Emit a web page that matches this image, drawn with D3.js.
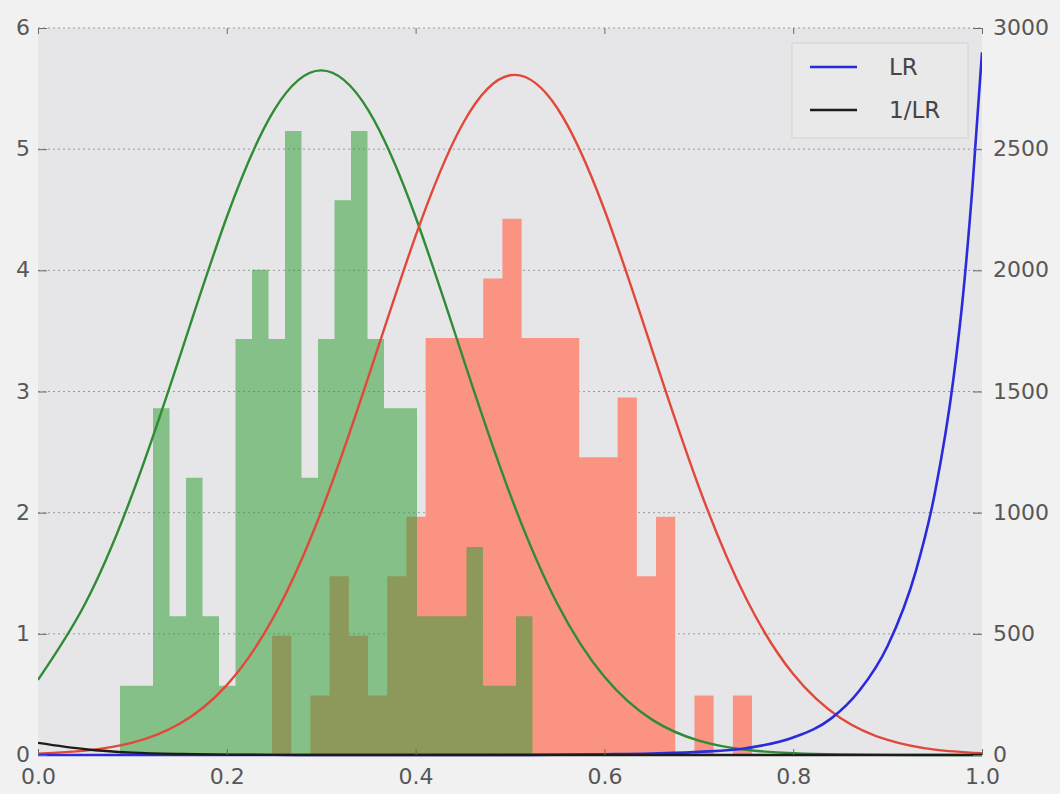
<!DOCTYPE html>
<html>
<head>
<meta charset="utf-8">
<script src="https://cdn.jsdelivr.net/npm/d3@7"></script>
<style>
  html, body { margin: 0; padding: 0; background: #f1f1f1; }
  svg { display: block; }
  .tick text { font-family: "DejaVu Sans", sans-serif; font-size: 22px; fill: #575757; }
</style>
</head>
<body>
<svg id="chart" width="1060" height="794"></svg>
<script>
// ---------------- data ----------------
const greenCounts = [1,1,5,2,4,2,1,6,7,6,9,4,6,8,9,6,5,5,2,2,2,3,1,1,2];
const greenRange  = [0.0869, 0.5238];
const redCounts   = [2,0,1,3,2,1,3,4,7,7,7,8,9,7,7,7,5,5,6,3,4,0,1,0,1];
const redRange    = [0.2479, 0.7564];

const curveX   = [0,0.05,0.1,0.15,0.2,0.25,0.3,0.35,0.4,0.45,0.5,0.55,0.6,0.65,0.7,0.75,0.8,0.85,0.9,0.95,1.0];
const greenPdf = [0.62,1.25,2.154,3.284,4.44,5.32,5.65,5.32,4.44,3.284,2.154,1.25,0.645,0.294,0.119,0.043,0.014,0.004,0.001,0.0002,0];
const redPdf   = [0.011,0.036,0.102,0.258,0.577,1.144,2.008,3.12,4.284,5.21,5.61,5.34,4.50,3.356,2.214,1.293,0.668,0.306,0.124,0.044,0.014];
const invLR    = [50,24,10,4,1.5,0.5,0.2,0.05,0,0,0,0,0,0,0,0,0,0,0,0,0];

const lrX = [0,0.5,0.6,0.65,0.7,0.75,0.8,0.84,0.87,0.9,0.93,0.95,0.97,0.98,0.99,1.0];
const lrY = [0,0.5,3,6,13,28,72,150,265,450,760,1080,1560,1900,2350,2900];

const xTicks      = [0,0.2,0.4,0.6,0.8,1.0];
const leftTicks   = [0,1,2,3,4,5,6];
const rightTicks  = [0,500,1000,1500,2000,2500,3000];
const legendItems = [{label:"LR", color:"#2b2bdc"}, {label:"1/LR", color:"#1c1c1c"}];

// ---------------- layout ----------------
const X0 = 38, X1 = 982, Y0 = 28, Y1 = 755;
const svg = d3.select("#chart");
const x  = d3.scaleLinear().domain([0,1]).range([X0,X1]);
const yL = d3.scaleLinear().domain([0,6]).range([Y1,Y0]);
const yR = d3.scaleLinear().domain([0,3000]).range([Y1,Y0]);

svg.append("rect").attr("width",1060).attr("height",794).attr("fill","#f1f1f1");
svg.append("rect").attr("x",X0).attr("y",Y0).attr("width",X1-X0).attr("height",Y1-Y0)
   .attr("fill","#e6e6e8");

svg.append("defs").append("clipPath").attr("id","clip")
   .append("rect").attr("x",X0).attr("y",Y0-2).attr("width",X1-X0).attr("height",Y1-Y0+4);

// grid
svg.append("g").selectAll("line").data(leftTicks.filter(d=>d>0)).join("line")
   .attr("x1",X0).attr("x2",X1).attr("y1",d=>yL(d)).attr("y2",d=>yL(d))
   .attr("stroke","#9a9a9a").attr("stroke-width",1).attr("stroke-dasharray","2,3");

// histograms (density normalised, drawn as one step shape each)
function bins(counts, range){
  const n = d3.sum(counts);
  const bw = (range[1]-range[0])/counts.length;
  const pts = counts.map((c,i)=>[range[0]+i*bw, c/(n*bw)]);
  pts.push([range[1], 0]);
  return pts;
}
const histArea = d3.area().x(d=>x(d[0])).y0(Y1).y1(d=>yL(d[1])).curve(d3.curveStepAfter);

const plot = svg.append("g").attr("clip-path","url(#clip)");
plot.append("path").datum(bins(redCounts, redRange)).attr("d",histArea)
   .attr("fill","#fb9383");
plot.append("path").datum(bins(greenCounts, greenRange)).attr("d",histArea)
   .attr("fill","rgb(48,158,55)").attr("fill-opacity",0.54);

// curves
const lineL = d3.line().x(d=>x(d[0])).y(d=>yL(d[1])).curve(d3.curveNatural);
const lineR = d3.line().x(d=>x(d[0])).y(d=>yR(d[1])).curve(d3.curveMonotoneX);

plot.append("path").datum(curveX.map((v,i)=>[v,greenPdf[i]])).attr("d",lineL)
   .attr("fill","none").attr("stroke","#2f8c34").attr("stroke-width",2.4);
plot.append("path").datum(curveX.map((v,i)=>[v,redPdf[i]])).attr("d",lineL)
   .attr("fill","none").attr("stroke","#e2483a").attr("stroke-width",2.4);
plot.append("path").datum(lrX.map((v,i)=>[v,lrY[i]])).attr("d",lineR)
   .attr("fill","none").attr("stroke",legendItems[0].color).attr("stroke-width",2.6);
plot.append("path").datum(curveX.map((v,i)=>[v,invLR[i]])).attr("d",lineR)
   .attr("fill","none").attr("stroke",legendItems[1].color).attr("stroke-width",2.4);

// axes
const axL = svg.append("g").attr("transform",`translate(${X0},0)`)
   .call(d3.axisLeft(yL).tickValues(leftTicks).tickFormat(d3.format("d")).tickSize(-9).tickPadding(8));
const axR = svg.append("g").attr("transform",`translate(${X1},0)`)
   .call(d3.axisRight(yR).tickValues(rightTicks).tickFormat(d3.format("d")).tickSize(-9).tickPadding(11));
const axB = svg.append("g").attr("transform",`translate(0,${Y1})`)
   .call(d3.axisBottom(x).tickValues(xTicks).tickFormat(d3.format(".1f")).tickSize(-6).tickPadding(13));
const axT = svg.append("g").attr("transform",`translate(0,${Y0})`)
   .call(d3.axisTop(x).tickValues(xTicks).tickFormat("").tickSize(-6));
[axL,axR,axB,axT].forEach(a=>{
  a.select(".domain").remove();
  a.selectAll(".tick line").attr("stroke","#6a6a6a").attr("stroke-width",1);
});
axL.selectAll(".tick text").attr("dy","0.3em");
axR.selectAll(".tick text").attr("dy","0.3em");

// legend
const lg = svg.append("g");
lg.append("rect").attr("x",792).attr("y",43).attr("width",176).attr("height",95)
  .attr("fill","#e9e9ea").attr("stroke","#d2d2d2").attr("stroke-width",1);
const rows = lg.selectAll("g.row").data(legendItems).join("g").attr("class","row")
  .attr("transform",(d,i)=>`translate(0,${67+i*43})`);
rows.append("line").attr("x1",810).attr("x2",857).attr("y1",0).attr("y2",0)
  .attr("stroke",d=>d.color).attr("stroke-width",2.6);
rows.append("text").attr("x",889).attr("y",0).attr("dy","0.36em")
  .attr("font-family","DejaVu Sans, sans-serif").attr("font-size",23).attr("fill","#454545")
  .text(d=>d.label);
</script>
</body>
</html>
